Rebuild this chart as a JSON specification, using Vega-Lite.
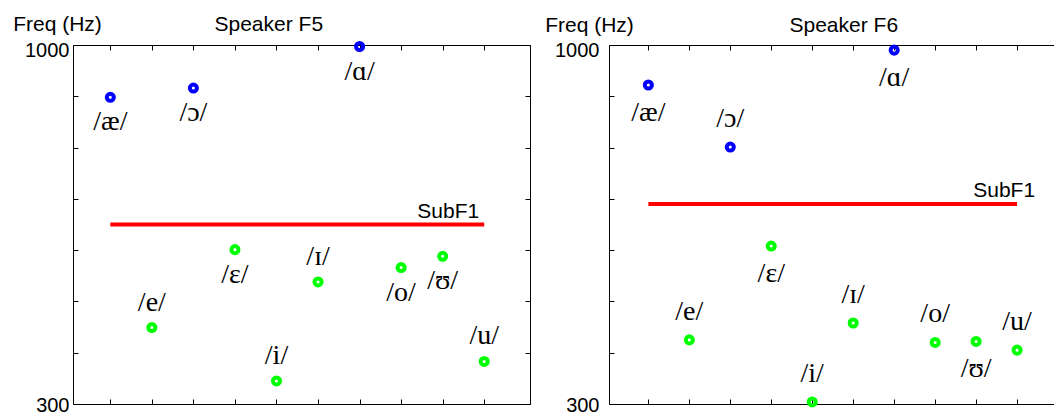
{
  "$schema": "https://vega.github.io/schema/vega-lite/v6.json",
  "padding": {"left": 12, "top": 13, "right": 0, "bottom": 0},
  "background": "white",
  "spacing": 13,
  "datasets": {
    "vowels": [
      {"speaker": "F5", "vowel": "/æ/", "F1": 898},
      {"speaker": "F5", "vowel": "/e/", "F1": 449},
      {"speaker": "F5", "vowel": "/ɔ/", "F1": 916},
      {"speaker": "F5", "vowel": "/ɛ/", "F1": 601},
      {"speaker": "F5", "vowel": "/i/", "F1": 345},
      {"speaker": "F5", "vowel": "/ɪ/", "F1": 538},
      {"speaker": "F5", "vowel": "/ɑ/", "F1": 997},
      {"speaker": "F5", "vowel": "/o/", "F1": 566},
      {"speaker": "F5", "vowel": "/ʊ/", "F1": 588},
      {"speaker": "F5", "vowel": "/u/", "F1": 383},
      {"speaker": "F6", "vowel": "/æ/", "F1": 922},
      {"speaker": "F6", "vowel": "/e/", "F1": 425},
      {"speaker": "F6", "vowel": "/ɔ/", "F1": 801},
      {"speaker": "F6", "vowel": "/ɛ/", "F1": 608},
      {"speaker": "F6", "vowel": "/i/", "F1": 304},
      {"speaker": "F6", "vowel": "/ɪ/", "F1": 458},
      {"speaker": "F6", "vowel": "/ɑ/", "F1": 990},
      {"speaker": "F6", "vowel": "/o/", "F1": 420},
      {"speaker": "F6", "vowel": "/ʊ/", "F1": 422},
      {"speaker": "F6", "vowel": "/u/", "F1": 405}
    ],
    "subf1": [
      {"speaker": "F5", "SubF1": 650},
      {"speaker": "F6", "SubF1": 690}
    ]
  },
  "hconcat": [
    {
      "width": 457,
      "height": 359,
      "layer": [
        {
          "data": {"name": "vowels"},
          "transform": [{"filter": "datum.speaker == 'F5'"}],
          "mark": {"type": "point", "shape": "circle", "filled": false, "size": 50, "strokeWidth": 4, "opacity": 1},
          "encoding": {
            "x": {"field": "vowel", "type": "ordinal",
              "scale": {"type": "point", "domain": ["/æ/", "/e/", "/ɔ/", "/ɛ/", "/i/", "/ɪ/", "/ɑ/", "/o/", "/ʊ/", "/u/"], "padding": 1.079, "align": 0.449},
              "axis": {"orient": "bottom", "labels": false, "tickSize": -5, "title": null}},
            "y": {"field": "F1", "type": "quantitative",
              "scale": {"domain": [300, 1000], "nice": false, "zero": false},
              "axis": {"orient": "left", "values": [300, 400, 500, 600, 700, 800, 900, 1000], "format": "d",
                "labelExpr": "datum.value == 300 || datum.value == 1000 ? datum.label : ''",
                "labelOffset": {"condition": {"test": "datum.value == 1000", "value": 5}, "value": 1},
                "tickSize": -5, "labelPadding": 9, "title": "Freq (Hz)", "titleAngle": 0,
                "titleX": -16, "titleY": -15, "titleAlign": "center", "titleBaseline": "alphabetic"}},
            "color": {"condition": {"test": "datum.F1 > 650", "value": "#0000ff"}, "value": "#00ff00"}
          }
        },
        {
          "data": {"name": "vowels"},
          "transform": [{"filter": "datum.speaker == 'F5'"}, {"filter": {"field": "vowel", "oneOf": ["/e/", "/i/", "/ɪ/", "/u/"]}}],
          "mark": {"type": "text", "font": "Liberation Serif", "fontSize": 28, "dy": -25, "baseline": "middle", "color": "black"},
          "encoding": {
            "x": {"field": "vowel", "type": "ordinal", "axis": null},
            "y": {"field": "F1", "type": "quantitative", "axis": null},
            "text": {"field": "vowel"}
          }
        },
        {
          "data": {"name": "vowels"},
          "transform": [{"filter": "datum.speaker == 'F5'"}, {"filter": {"not": {"field": "vowel", "oneOf": ["/e/", "/i/", "/ɪ/", "/u/"]}}}],
          "mark": {"type": "text", "font": "Liberation Serif", "fontSize": 28, "dy": 25, "baseline": "middle", "color": "black"},
          "encoding": {
            "x": {"field": "vowel", "type": "ordinal", "axis": null},
            "y": {"field": "F1", "type": "quantitative", "axis": null},
            "text": {"field": "vowel"}
          }
        },
        {
          "data": {"name": "subf1"},
          "transform": [{"filter": "datum.speaker == 'F5'"}],
          "mark": {"type": "rule", "color": "#ff0000", "strokeWidth": 4, "strokeCap": "butt"},
          "encoding": {
            "x": {"datum": "/æ/", "type": "ordinal", "axis": {"orient": "top", "labels": false, "tickSize": -5,
              "title": "Speaker F5", "titleX": 141, "titleY": -15, "titleAlign": "left", "titleBaseline": "alphabetic", "titleAnchor": null}},
            "x2": {"datum": "/u/"},
            "y": {"field": "SubF1", "type": "quantitative",
              "axis": {"orient": "right", "labels": false, "tickSize": -5, "title": null, "values": [300, 400, 500, 600, 700, 800, 900, 1000]}}
          }
        },
        {
          "data": {"name": "subf1"},
          "transform": [{"filter": "datum.speaker == 'F5'"}],
          "mark": {"type": "text", "text": "SubF1", "align": "right", "baseline": "alphabetic", "dx": -5, "dy": -7, "font": "Liberation Sans", "fontSize": 21, "color": "black"},
          "encoding": {
            "x": {"datum": "/u/", "type": "ordinal", "axis": null},
            "y": {"field": "SubF1", "type": "quantitative", "axis": null}
          }
        }
      ],
      "resolve": {"axis": {"x": "independent", "y": "independent"}}
    },
    {
      "width": 445,
      "height": 359,
      "layer": [
        {
          "data": {"name": "vowels"},
          "transform": [{"filter": "datum.speaker == 'F6'"}],
          "mark": {"type": "point", "shape": "circle", "filled": false, "size": 50, "strokeWidth": 4, "opacity": 1},
          "encoding": {
            "x": {"field": "vowel", "type": "ordinal",
              "scale": {"type": "point", "domain": ["/æ/", "/e/", "/ɔ/", "/ɛ/", "/i/", "/ɪ/", "/ɑ/", "/o/", "/ʊ/", "/u/"], "padding": 0.931, "align": 0.516},
              "axis": {"orient": "bottom", "labels": false, "tickSize": -5, "title": null}},
            "y": {"field": "F1", "type": "quantitative",
              "scale": {"domain": [300, 1000], "nice": false, "zero": false},
              "axis": {"orient": "left", "values": [300, 400, 500, 600, 700, 800, 900, 1000], "format": "d",
                "labelExpr": "datum.value == 300 || datum.value == 1000 ? datum.label : ''",
                "labelOffset": {"condition": {"test": "datum.value == 1000", "value": 5}, "value": 1},
                "tickSize": -5, "labelPadding": 15, "title": "Freq (Hz)", "titleAngle": 0,
                "titleX": -20, "titleY": -14, "titleAlign": "center", "titleBaseline": "alphabetic"}},
            "color": {"condition": {"test": "datum.F1 > 690", "value": "#0000ff"}, "value": "#00ff00"}
          }
        },
        {
          "data": {"name": "vowels"},
          "transform": [{"filter": "datum.speaker == 'F6'"}, {"filter": {"field": "vowel", "oneOf": ["/e/", "/i/", "/ɪ/", "/u/", "/ɔ/", "/o/"]}}],
          "mark": {"type": "text", "font": "Liberation Serif", "fontSize": 28, "dy": -28, "baseline": "middle", "color": "black"},
          "encoding": {
            "x": {"field": "vowel", "type": "ordinal", "axis": null},
            "y": {"field": "F1", "type": "quantitative", "axis": null},
            "text": {"field": "vowel"}
          }
        },
        {
          "data": {"name": "vowels"},
          "transform": [{"filter": "datum.speaker == 'F6'"}, {"filter": {"not": {"field": "vowel", "oneOf": ["/e/", "/i/", "/ɪ/", "/u/", "/ɔ/", "/o/"]}}}],
          "mark": {"type": "text", "font": "Liberation Serif", "fontSize": 28, "dy": 28, "baseline": "middle", "color": "black"},
          "encoding": {
            "x": {"field": "vowel", "type": "ordinal", "axis": null},
            "y": {"field": "F1", "type": "quantitative", "axis": null},
            "text": {"field": "vowel"}
          }
        },
        {
          "data": {"name": "subf1"},
          "transform": [{"filter": "datum.speaker == 'F6'"}],
          "mark": {"type": "rule", "color": "#ff0000", "strokeWidth": 4, "strokeCap": "butt"},
          "encoding": {
            "x": {"datum": "/æ/", "type": "ordinal", "axis": {"orient": "top", "labels": false, "tickSize": -5,
              "title": "Speaker F6", "titleX": 180, "titleY": -14, "titleAlign": "left", "titleBaseline": "alphabetic", "titleAnchor": null}},
            "x2": {"datum": "/u/"},
            "y": {"field": "SubF1", "type": "quantitative", "axis": null}
          }
        },
        {
          "data": {"name": "subf1"},
          "transform": [{"filter": "datum.speaker == 'F6'"}],
          "mark": {"type": "text", "text": "SubF1", "align": "right", "baseline": "alphabetic", "dx": 18, "dy": -7, "font": "Liberation Sans", "fontSize": 21, "color": "black"},
          "encoding": {
            "x": {"datum": "/u/", "type": "ordinal", "axis": null},
            "y": {"field": "SubF1", "type": "quantitative", "axis": null}
          }
        }
      ],
      "resolve": {"axis": {"x": "independent", "y": "independent"}}
    }
  ],
  "config": {
    "view": {"stroke": null},
    "axis": {
      "grid": false,
      "domainColor": "black",
      "domainWidth": 1,
      "tickColor": "black",
      "tickWidth": 1,
      "labelFont": "Liberation Sans",
      "labelFontSize": 20,
      "labelColor": "black",
      "titleFont": "Liberation Sans",
      "titleFontSize": 21,
      "titleFontWeight": "normal",
      "titleColor": "black"
    }
  }
}
